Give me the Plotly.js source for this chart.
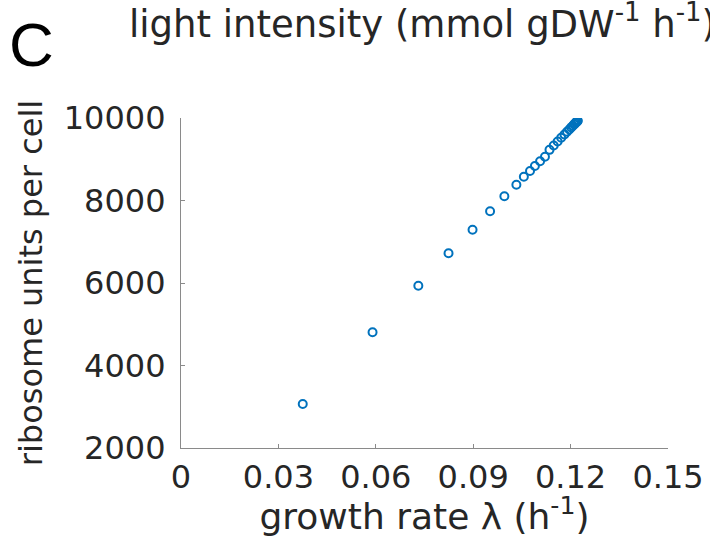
<!DOCTYPE html>
<html>
<head>
<meta charset="utf-8">
<script src="https://cdn.plot.ly/plotly-3.0.1.min.js"></script>
<style>
  html, body { margin: 0; padding: 0; background: #fff; overflow: hidden; }
  #chart { width: 710px; height: 537px; }
</style>
</head>
<body>
<div id="chart"></div>
<script>
// growth rate λ (h^-1)
const growthRate = [0.0375, 0.0590, 0.0731, 0.0824, 0.0898, 0.0952, 0.0996, 0.1033,
  0.1056, 0.1075, 0.1090, 0.1106, 0.1121, 0.1135, 0.1148, 0.1160, 0.1171, 0.1181,
  0.1189, 0.1196, 0.1202, 0.1207, 0.1211, 0.1214, 0.1217, 0.1219, 0.1220, 0.1221, 0.1222];
// ribosome units per cell
const ribosomes = [3067, 4805, 5935, 6720, 7292, 7738, 8101, 8383,
  8577, 8715, 8836, 8950, 9062, 9228, 9333, 9431, 9520, 9601,
  9667, 9723, 9772, 9813, 9845, 9870, 9894, 9910, 9919, 9927, 9935];

const xTicks = [0, 0.03, 0.06, 0.09, 0.12, 0.15];
const xTickLabels = ['0', '0.03', '0.06', '0.09', '0.12', '0.15'];
const yTicks = [2000, 4000, 6000, 8000, 10000];
const yTickLabels = ['2000', '4000', '6000', '8000', '10000'];

const panelLabel = 'C';
const topLabel = 'light intensity (mmol gDW<sup>-1</sup> h<sup>-1</sup>)';
const xTitle = 'growth rate λ (h<sup>-1</sup>)';
const yTitle = 'ribosome units per cell';

const font = 'DejaVu Sans, sans-serif';
const textColor = '#262626';
const axisColor = '#8a8a8a';

const trace = {
  x: growthRate,
  y: ribosomes,
  type: 'scatter',
  mode: 'markers',
  marker: {
    symbol: 'circle-open',
    size: 8,
    color: '#0072BD',
    line: { color: '#0072BD', width: 2 }
  },
  hoverinfo: 'x+y',
  showlegend: false
};

const layout = {
  width: 710,
  height: 537,
  margin: { l: 180.5, r: 42, t: 118, b: 89 },
  paper_bgcolor: '#fff',
  plot_bgcolor: '#fff',
  font: { family: font, color: textColor, size: 32 },
  xaxis: {
    range: [0, 0.15],
    tickvals: xTicks,
    ticktext: xTickLabels,
    ticks: 'inside',
    ticklen: 4,
    tickwidth: 1,
    tickcolor: axisColor,
    showline: true,
    linecolor: axisColor,
    linewidth: 1.2,
    showgrid: false,
    zeroline: false,
    mirror: false,
    tickfont: { family: font, size: 32, color: textColor },
    ticklabelstandoff: 0,
    title: { text: xTitle, font: { family: font, size: 36, color: textColor }, standoff: 3 },
    automargin: false
  },
  yaxis: {
    range: [2000, 10000],
    tickvals: yTicks,
    ticktext: yTickLabels,
    ticks: 'inside',
    ticklen: 4,
    tickwidth: 1,
    tickcolor: axisColor,
    showline: true,
    linecolor: axisColor,
    linewidth: 1.2,
    showgrid: false,
    zeroline: false,
    mirror: false,
    tickfont: { family: font, size: 32, color: textColor },
    ticklabelstandoff: 8,
    title: { text: yTitle, font: { family: font, size: 32, color: textColor }, standoff: 11 },
    automargin: false
  },
  annotations: [
    {
      text: panelLabel,
      xref: 'paper', yref: 'paper',
      x: (6 - 180.5) / 487.5, y: 1 + (118 - 81) / 330,
      xanchor: 'left', yanchor: 'bottom',
      showarrow: false,
      font: { family: 'Liberation Sans, Arial, sans-serif', size: 62, color: '#000' }
    },
    {
      text: topLabel,
      xref: 'paper', yref: 'paper',
      x: (126 - 180.5) / 487.5, y: 1 + (118 - 48) / 330,
      xanchor: 'left', yanchor: 'bottom',
      showarrow: false,
      font: { family: font, size: 37, color: textColor }
    }
  ]
};

Plotly.newPlot('chart', [trace], layout, { displayModeBar: false });
</script>
</body>
</html>
